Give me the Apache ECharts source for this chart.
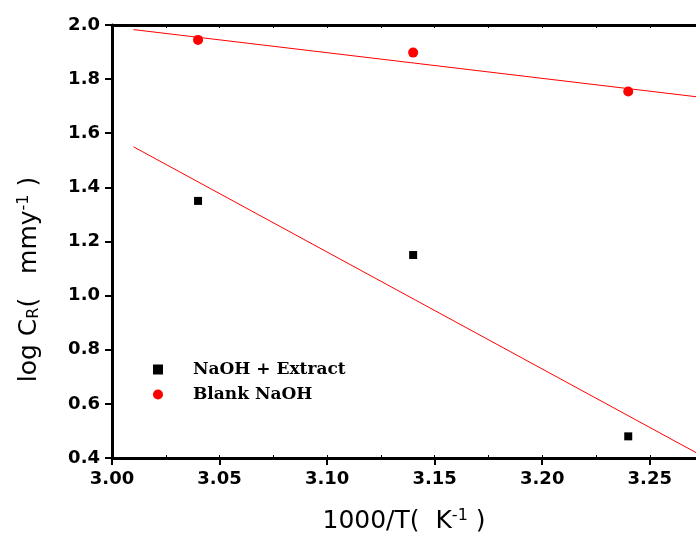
<!DOCTYPE html>
<html><head><meta charset="utf-8">
<script src="https://cdn.jsdelivr.net/npm/echarts@6/dist/echarts.min.js"></script>
<style>html,body{margin:0;padding:0;background:#fff}#c{width:696px;height:538px}</style>
</head><body><div id="c"></div>
<script>
var xTemps = [3.04, 3.14, 3.24];
var extractVals = [1.35, 1.15, 0.48];
var blankVals = [1.945, 1.898, 1.754];
var extractFit = [[3.01, 1.55], [3.2715, 0.42]];
var blankFit = [[3.01, 1.983], [3.2715, 1.735]];
var xTicks = ['3.00','3.05','3.10','3.15','3.20','3.25'];
var yTicks = ['0.4','0.6','0.8','1.0','1.2','1.4','1.6','1.8','2.0'];

var chart = echarts.init(document.getElementById('c'));
var axisLineStyle = {color:'#000', width:3};
var tickFont = {fontFamily:'DejaVu Sans', fontWeight:'bold', fontSize:18, color:'#000'};
var titleRich = {
  n:{fontFamily:'DejaVu Sans', fontSize:25, color:'#000'},
  s:{fontFamily:'DejaVu Sans', fontSize:16, color:'#000', verticalAlign:'top', padding:[0,0,10,0]},
  b:{fontFamily:'DejaVu Sans', fontSize:16, color:'#000', verticalAlign:'bottom', padding:[10,0,0,0]}
};
chart.setOption({
  animation:false,
  grid:{left:112, right:0, top:25, bottom:80, containLabel:false, outerBoundsMode:'none'},
  legend:{
    orient:'vertical', left:148, top:356, itemGap:8, itemWidth:10, itemHeight:10,
    textStyle:{fontFamily:'DejaVu Serif', fontWeight:'bold', fontSize:17, color:'#000', padding:[0,0,0,25]},
    data:['NaOH + Extract','Blank NaOH']
  },
  xAxis:[{
    type:'value', min:3.0, max:3.2715, interval:0.05, position:'bottom',
    axisLine:{show:true, lineStyle:axisLineStyle},
    axisTick:{show:true, inside:false, length:7, lineStyle:{color:'#000', width:2}},
    axisLabel:Object.assign({margin:12, showMaxLabel:false,
      formatter:function(v){var s=v.toFixed(2); return xTicks.indexOf(s)>=0?s:'';}}, tickFont),
    splitLine:{show:false},
    name:'{n|1000/T(  K}{s|-1}{n| )}', nameLocation:'middle', nameGap:50,
    nameTextStyle:{rich:titleRich}
  },{
    type:'value', min:3.0, max:3.2715, interval:0.025, position:'bottom',
    axisLine:{show:false}, axisTick:{show:true, inside:true, length:3, lineStyle:{color:'#000', width:1}},
    axisLabel:{show:false}, splitLine:{show:false}
  },{
    type:'value', min:3.0, max:3.2715, interval:0.025, position:'top',
    axisLine:{show:true, lineStyle:axisLineStyle}, axisTick:{show:true, inside:true, length:3, lineStyle:{color:'#000', width:1}},
    axisLabel:{show:false}, splitLine:{show:false}
  }],
  yAxis:[{
    type:'value', min:0.4, max:2.0, interval:0.2,
    axisLine:{show:true, lineStyle:axisLineStyle},
    axisTick:{show:true, inside:false, length:7, lineStyle:{color:'#000', width:2}},
    axisLabel:Object.assign({margin:12,
      formatter:function(v){var s=v.toFixed(1); return yTicks.indexOf(s)>=0?s:'';}}, tickFont),
    splitLine:{show:false},
    name:'{n|log C}{b|R}{n|(   mmy}{s|-1}{n| )}', nameLocation:'middle', nameGap:70, nameRotate:90,
    nameTextStyle:{rich:titleRich, padding:[0,76,0,0]}
  }],
  series:[
    {name:'NaOH + Extract', type:'scatter', symbol:'rect', symbolSize:8, itemStyle:{color:'#000', opacity:1},
      data:xTemps.map(function(x,i){return [x, extractVals[i]];}), z:5},
    {name:'Blank NaOH', type:'scatter', symbol:'circle', symbolSize:10, itemStyle:{color:'#ff0000', opacity:1},
      data:xTemps.map(function(x,i){return [x, blankVals[i]];}), z:5},
    {name:'fit1', type:'line', data:extractFit, symbol:'none', lineStyle:{color:'#ff0000', width:1}, silent:true},
    {name:'fit2', type:'line', data:blankFit, symbol:'none', lineStyle:{color:'#ff0000', width:1}, silent:true}
  ]
});
</script></body></html>
